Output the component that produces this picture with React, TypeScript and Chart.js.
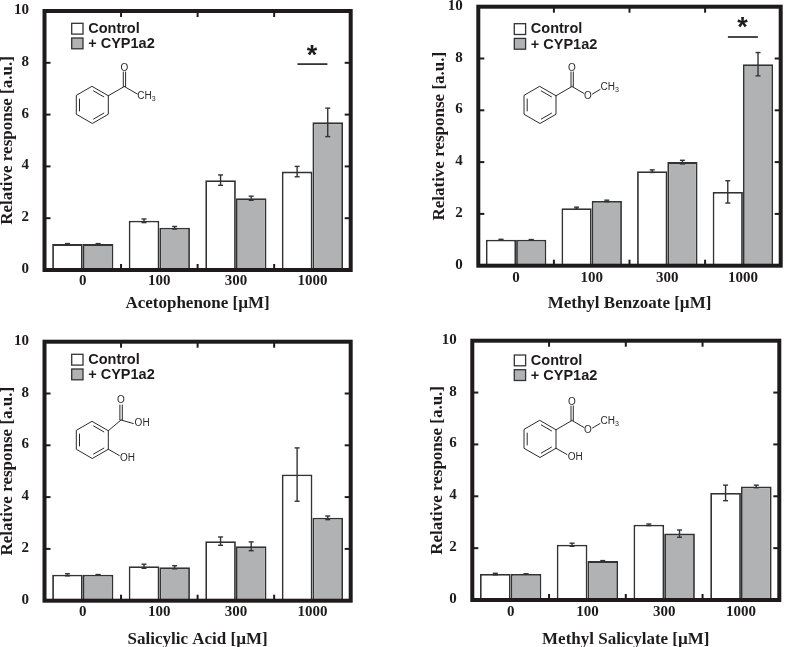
import React, { useEffect, useRef } from "react";
import { Chart, registerables } from "chart.js";

Chart.register(...registerables);

const doses = ["0", "100", "300", "1000"];
const seriesNames = ["Control", "+ CYP1a2"];
const yTicks = [0, 2, 4, 6, 8, 10];

const acetoControl = [1, 1.9, 3.47, 3.8];
const acetoCyp = [1, 1.63, 2.77, 5.7];
const acetoControlErr = [0.02, 0.07, 0.2, 0.2];
const acetoCypErr = [0.02, 0.05, 0.08, 0.55];

const benzoControl = [1, 2.22, 3.65, 2.85];
const benzoCyp = [1, 2.5, 4, 7.78];
const benzoControlErr = [0.02, 0.04, 0.05, 0.43];
const benzoCypErr = [0.01, 0.03, 0.07, 0.45];

const acidControl = [1, 1.33, 2.3, 4.87];
const acidCyp = [1, 1.29, 2.1, 3.2];
const acidControlErr = [0.04, 0.08, 0.16, 1.03];
const acidCypErr = [0.01, 0.06, 0.17, 0.07];

const salControl = [1, 2.13, 2.9, 4.13];
const salCyp = [1, 1.5, 2.56, 4.38];
const salControlErr = [0.03, 0.06, 0.03, 0.3];
const salCypErr = [0.01, 0.02, 0.14, 0.05];

const INK = "#1f1b1c";
const GREY = "#b1b2b4";
const SERIF = "'Liberation Serif'";
const SANS = "'Liberation Sans'";
const TICK_SIZE = 15;
const TITLE_SIZE = 17;

type Molecule = "aceto" | "benzo" | "acid" | "sal";
type Panel = {
  title: string;
  control: number[];
  cyp: number[];
  controlErr: number[];
  cypErr: number[];
  molecule: Molecule;
  sigValue: number | null;
  box: number[]; // canvas left, top, width, height
  plot: number[]; // page left, right, top, bottom
  yTitleX: number;
  xTickY: number;
  xTitleY: number;
  legendAt: number[]; // page x,y of first swatch
  molAt: number[]; // page centre of ring
};

const panels: Panel[] = [
  {
    title: "Acetophenone [µM]",
    control: acetoControl, cyp: acetoCyp, controlErr: acetoControlErr, cypErr: acetoCypErr,
    molecule: "aceto", sigValue: 7.95,
    box: [0, 0, 400, 325], plot: [44.5, 350.7, 11, 270],
    yTitleX: 7.5, xTickY: 280.7, xTitleY: 303.5, legendAt: [71.7, 23.3], molAt: [92.3, 105],
  },
  {
    title: "Methyl Benzoate [µM]",
    control: benzoControl, cyp: benzoCyp, controlErr: benzoControlErr, cypErr: benzoCypErr,
    molecule: "benzo", sigValue: 8.83,
    box: [400, 0, 387, 325], plot: [478.3, 780.7, 6.7, 265.7],
    yTitleX: 440, xTickY: 277.7, xTitleY: 303.5, legendAt: [514.3, 23.7], molAt: [540, 105],
  },
  {
    title: "Salicylic Acid [µM]",
    control: acidControl, cyp: acidCyp, controlErr: acidControlErr, cypErr: acidCypErr,
    molecule: "acid", sigValue: null,
    box: [0, 325, 400, 322], plot: [44.5, 350.7, 341.7, 600.7],
    yTitleX: 7.5, xTickY: 611.7, xTitleY: 639.5, legendAt: [71.7, 354.3], molAt: [92.3, 440],
  },
  {
    title: "Methyl Salicylate [µM]",
    control: salControl, cyp: salCyp, controlErr: salControlErr, cypErr: salCypErr,
    molecule: "sal", sigValue: null,
    box: [400, 325, 387, 322], plot: [472.3, 779.3, 340.7, 600],
    yTitleX: 438, xTickY: 611.7, xTitleY: 639.2, legendAt: [514.3, 355], molAt: [540, 439],
  },
];

function line(ctx: CanvasRenderingContext2D, x1: number, y1: number, x2: number, y2: number) {
  ctx.beginPath();
  ctx.moveTo(x1, y1);
  ctx.lineTo(x2, y2);
  ctx.stroke();
}

function drawMethyl(ctx: CanvasRenderingContext2D, x: number, y: number) {
  ctx.textAlign = "left";
  ctx.textBaseline = "middle";
  ctx.font = `10px ${SANS}`;
  ctx.fillText("CH", x, y);
  const w = ctx.measureText("CH").width;
  ctx.font = `7px ${SANS}`;
  ctx.fillText("3", x + w, y + 2.5);
  ctx.font = `10px ${SANS}`;
}

function drawMolecule(ctx: CanvasRenderingContext2D, kind: Molecule, cx: number, cy: number) {
  ctx.save();
  ctx.translate(cx, cy);
  ctx.strokeStyle = "#2a2a2a";
  ctx.fillStyle = "#2a2a2a";
  ctx.lineWidth = 1;
  ctx.lineCap = "round";
  const pts = [
    [0, -18.5], [16, -9.25], [16, 9.25], [0, 18.5], [-16, 9.25], [-16, -9.25],
  ];
  ctx.beginPath();
  pts.forEach((p, i) => (i ? ctx.lineTo(p[0], p[1]) : ctx.moveTo(p[0], p[1])));
  ctx.closePath();
  ctx.stroke();
  // inner double bonds of the ring
  [[0, 1], [2, 3], [4, 5]].forEach(([a, b]) => {
    const pa = pts[a];
    const pb = pts[b];
    const k = 0.8;
    const ax = pa[0] * k, ay = pa[1] * k, bx = pb[0] * k, by = pb[1] * k;
    const t = 0.1;
    line(ctx, ax + (bx - ax) * t, ay + (by - ay) * t, bx - (bx - ax) * t, by - (by - ay) * t);
  });
  ctx.font = `10px ${SANS}`;
  ctx.textBaseline = "middle";
  if (kind === "acid") {
    line(ctx, 16, -9.25, 28.7, -20);
    line(ctx, 27.6, -20, 27.6, -35);
    line(ctx, 30, -20, 30, -35);
    line(ctx, 28.7, -20, 41, -16.5);
    ctx.textAlign = "center";
    ctx.fillText("O", 28.7, -40);
    ctx.textAlign = "left";
    ctx.fillText("OH", 42.3, -16.5);
  } else {
    line(ctx, 16, -9.25, 32, -18.5);
    line(ctx, 31, -18.5, 31, -33);
    line(ctx, 33.3, -18.5, 33.3, -33);
    ctx.textAlign = "center";
    ctx.fillText("O", 32, -37);
    if (kind === "aceto") {
      line(ctx, 32, -18.5, 45, -11);
      drawMethyl(ctx, 45, -8.3);
    } else {
      line(ctx, 32, -18.5, 44, -11.5);
      ctx.fillText("O", 48, -9);
      line(ctx, 52.5, -11, 60, -15.5);
      drawMethyl(ctx, 60.5, -17.7);
    }
  }
  if (kind === "acid" || kind === "sal") {
    line(ctx, 16, 9.25, 27, 15.5);
    ctx.textAlign = "left";
    ctx.fillText("OH", 27.7, 18.3);
  }
  ctx.restore();
}

function makeDecor(p: Panel) {
  return {
    id: "decor",
    afterDatasetsDraw(chart: any) {
      const ctx: CanvasRenderingContext2D = chart.ctx;
      const { left, right, top, bottom } = chart.chartArea;
      const x = chart.scales.x;
      const y = chart.scales.y;
      const [ox, oy] = p.box;
      ctx.save();
      // error bars
      ctx.strokeStyle = "#333333";
      ctx.lineWidth = 1.4;
      [p.controlErr, p.cypErr].forEach((errs, ds) => {
        const meta = chart.getDatasetMeta(ds);
        const vals = ds === 0 ? p.control : p.cyp;
        errs.forEach((e, i) => {
          const bx = meta.data[i].x;
          const hi = y.getPixelForValue(vals[i] + e);
          const lo = y.getPixelForValue(vals[i] - e);
          line(ctx, bx, hi, bx, lo);
          line(ctx, bx - 2.5, hi, bx + 2.5, hi);
          line(ctx, bx - 2.5, lo, bx + 2.5, lo);
        });
      });
      // inward ticks on all four sides
      ctx.strokeStyle = INK;
      ctx.lineWidth = 2;
      yTicks.slice(1, -1).forEach((v) => {
        const py = y.getPixelForValue(v);
        line(ctx, left, py, left + 6, py);
        line(ctx, right, py, right - 6, py);
      });
      [0.5, 1.5, 2.5].forEach((v) => {
        const px = x.getPixelForValue(v);
        line(ctx, px, top, px, top + 6);
        line(ctx, px, bottom, px, bottom - 6);
      });
      // frame
      ctx.lineWidth = 4;
      ctx.strokeRect(left, top, right - left, bottom - top);
      // legend
      const lx = p.legendAt[0] - ox;
      const ly = p.legendAt[1] - oy;
      ctx.strokeStyle = "#333333";
      ctx.lineWidth = 1.3;
      [0, 1].forEach((i) => {
        const sy = ly + i * 14.7;
        ctx.fillStyle = i === 0 ? "#ffffff" : GREY;
        ctx.fillRect(lx, sy, 11.3, 10.8);
        ctx.strokeRect(lx, sy, 11.3, 10.8);
        ctx.fillStyle = INK;
        ctx.font = `bold 14.5px ${SANS}`;
        ctx.textAlign = "left";
        ctx.textBaseline = "middle";
        ctx.fillText(seriesNames[i], lx + 16.5, sy + 5.6 + (i === 0 ? 0 : 0.5));
      });
      // significance marker
      if (p.sigValue !== null) {
        const sx = x.getPixelForValue(3);
        const sy = y.getPixelForValue(p.sigValue);
        ctx.strokeStyle = INK;
        ctx.lineWidth = 1.6;
        line(ctx, sx - 15, sy, sx + 15, sy);
        ctx.fillStyle = INK;
        ctx.font = `bold 27px ${SANS}`;
        ctx.textAlign = "center";
        ctx.textBaseline = "middle";
        ctx.fillText("*", sx - 0.5, sy - 8);
      }
      drawMolecule(ctx, p.molecule, p.molAt[0] - ox, p.molAt[1] - oy);
      ctx.restore();
    },
  };
}

function PanelChart({ p }: { p: Panel }) {
  const ref = useRef<HTMLCanvasElement>(null);
  useEffect(() => {
    if (!ref.current) return;
    const [ox, oy, w, h] = p.box;
    const [pl, pr, pt, pb] = p.plot;
    const titleLine = TITLE_SIZE * 1.2;
    const barStyle = { borderColor: "#333333", borderWidth: 1.8, borderSkipped: false, categoryPercentage: 0.8, barPercentage: 1 };
    const chart = new Chart(ref.current, {
      type: "bar",
      data: {
        labels: doses,
        datasets: [
          { label: seriesNames[0], data: p.control, backgroundColor: "#ffffff", ...barStyle },
          { label: seriesNames[1], data: p.cyp, backgroundColor: GREY, ...barStyle },
        ],
      },
      plugins: [makeDecor(p)],
      options: {
        animation: false,
        responsive: false,
        layout: { autoPadding: false, padding: { top: pt - oy, right: ox + w - pr, left: 0, bottom: 0 } },
        plugins: { legend: { display: false }, tooltip: { enabled: false } },
        scales: {
          x: {
            grid: { display: false },
            border: { display: false },
            afterFit: (s: any) => {
              s.height = oy + h - pb;
              s.paddingLeft = 0;
              s.paddingRight = 0;
            },
            ticks: {
              color: INK,
              font: { family: SERIF, weight: "bold", size: TICK_SIZE },
              padding: p.xTickY - pb - 16.3,
              maxRotation: 0,
              autoSkip: false,
            },
            title: {
              display: true,
              text: p.title,
              color: INK,
              font: { family: SERIF, weight: "bold", size: TITLE_SIZE },
              padding: { top: 0, bottom: oy + h - p.xTitleY - titleLine / 2 },
            },
          },
          y: {
            min: 0,
            max: 10,
            grid: { display: false },
            border: { display: false },
            afterFit: (s: any) => {
              s.width = pl - ox;
              s.paddingTop = 0;
              s.paddingBottom = 0;
            },
            ticks: {
              stepSize: 2,
              color: INK,
              font: { family: SERIF, weight: "bold", size: TICK_SIZE },
              padding: 7.5,
              labelOffset: -0.8,
            },
            title: {
              display: true,
              text: "Relative response [a.u.]",
              color: INK,
              font: { family: SERIF, weight: "bold", size: TITLE_SIZE },
              padding: { top: p.yTitleX - ox - titleLine / 2, bottom: 0 },
            },
          },
        },
      },
    } as any);
    return () => chart.destroy();
  }, [p]);
  const [ox, oy, w, h] = p.box;
  return (
    <canvas
      ref={ref}
      width={w}
      height={h}
      style={{ position: "absolute", left: ox, top: oy, width: w, height: h }}
    />
  );
}

export default function App() {
  return (
    <div style={{ position: "absolute", left: 0, top: 0, width: 787, height: 647, background: "#fff", overflow: "hidden" }}>
      {panels.map((p) => (
        <PanelChart key={p.title} p={p} />
      ))}
    </div>
  );
}
